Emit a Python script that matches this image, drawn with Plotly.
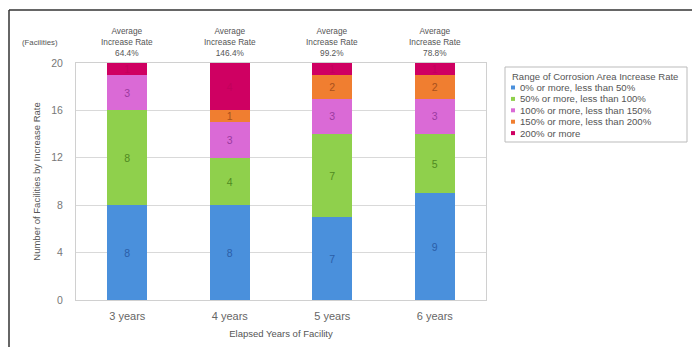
import plotly.graph_objects as go

# ---- data ----
categories = ["3 years", "4 years", "5 years", "6 years"]
series_names = [
    "0% or more, less than 50%",
    "50% or more, less than 100%",
    "100% or more, less than 150%",
    "150% or more, less than 200%",
    "200% or more",
]
vals_0_50 = [8, 8, 7, 9]
vals_50_100 = [8, 4, 7, 5]
vals_100_150 = [3, 3, 3, 3]
vals_150_200 = [0, 1, 2, 2]
vals_200_up = [1, 4, 1, 1]
avg_rates = ["64.4%", "146.4%", "99.2%", "78.8%"]
y_ticks = [0, 4, 8, 12, 16, 20]

series_values = [vals_0_50, vals_50_100, vals_100_150, vals_150_200, vals_200_up]
bar_colors = ["#4A90DC", "#8FD04C", "#DA6AD6", "#F07E30", "#CF0062"]
label_colors = ["#2A5EA8", "#4F8A22", "#9A3AA0", "#A8501C", "#C2005C"]

W, H = 692, 347
L, R, T, B = 76, 486, 63, 300  # plot area pixel bounds
PW, PH = R - L, B - T


def px2x(px):
    return (px - L) / PW


def py2y(py):
    return 1 - (py - T) / PH


FONT = "Liberation Sans, Arial, sans-serif"
TXT = "#555555"

fig = go.Figure()
for name, vals, col, lcol in zip(series_names, series_values, bar_colors, label_colors):
    fig.add_trace(go.Bar(
        x=categories, y=vals, name=name,
        marker=dict(color=col, line=dict(width=0)),
        text=[str(v) if v > 0 else "" for v in vals],
        textposition="inside", insidetextanchor="middle", textangle=0,
        constraintext="none",
        textfont=dict(family=FONT, size=10.5, color=lcol),
        showlegend=False,
    ))

annotations = []
shapes = []

# average-rate annotations above bars
for cat, r in zip(categories, avg_rates):
    annotations.append(dict(
        x=cat, xref="x", y=1, yref="paper", xanchor="center", yanchor="bottom", yshift=3,
        text="Average<br>Increase Rate<br>" + r, showarrow=False,
        font=dict(family=FONT, size=8.3, color=TXT), align="center",
    ))

# (Facilities) label
annotations.append(dict(
    x=px2x(40), y=py2y(43), xref="paper", yref="paper", xanchor="center", yanchor="middle",
    text="(Facilities)", showarrow=False,
    font=dict(family=FONT, size=7.8, color=TXT),
))

# manual legend
lg_left, lg_right, lg_top, lg_bottom = 505, 687, 67, 142
shapes.append(dict(type="rect", xref="paper", yref="paper",
                   x0=px2x(lg_left), x1=px2x(lg_right), y0=py2y(lg_bottom), y1=py2y(lg_top),
                   line=dict(color="#BBBBBB", width=1), fillcolor="rgba(0,0,0,0)"))
annotations.append(dict(
    x=px2x(510), y=py2y(77), xref="paper", yref="paper", xanchor="left", yanchor="middle",
    text="Range of Corrosion Area Increase Rate", showarrow=False,
    font=dict(family=FONT, size=9.5, color=TXT),
))
for i, (name, col) in enumerate(zip(series_names, bar_colors)):
    cy = 87.5 + i * 11.4
    shapes.append(dict(type="rect", xref="paper", yref="paper",
                       x0=px2x(511), x1=px2x(515), y0=py2y(cy + 2), y1=py2y(cy - 2),
                       line=dict(width=0), fillcolor=col))
    annotations.append(dict(
        x=px2x(518), y=py2y(cy), xref="paper", yref="paper", xanchor="left", yanchor="middle",
        text=name, showarrow=False,
        font=dict(family=FONT, size=9.6, color=TXT),
    ))

# outer frame lines (left and top)
shapes.append(dict(type="line", xref="paper", yref="paper",
                   x0=px2x(9), x1=px2x(9), y0=py2y(10), y1=py2y(347),
                   line=dict(color="#333333", width=1.5)))
shapes.append(dict(type="line", xref="paper", yref="paper",
                   x0=px2x(9), x1=px2x(692), y0=py2y(10), y1=py2y(10),
                   line=dict(color="#333333", width=1.5)))

fig.update_layout(
    width=W, height=H,
    margin=dict(l=L, r=W - R, t=T, b=H - B, pad=0, autoexpand=False),
    barmode="stack", bargap=0.61,
    paper_bgcolor="white", plot_bgcolor="white",
    font=dict(family=FONT, color=TXT),
    annotations=annotations, shapes=shapes,
    showlegend=False,
)
fig.update_xaxes(
    automargin=False,
    showgrid=False, showline=True, linecolor="#D0D0D0", linewidth=1, mirror=True,
    tickfont=dict(family=FONT, size=11, color="#666666"), ticks="", ticklabelstandoff=6,
    title=dict(text="Elapsed Years of Facility", font=dict(family=FONT, size=9.5, color=TXT), standoff=9),
)
fig.update_yaxes(
    automargin=False,
    range=[0, 20], tickvals=y_ticks, showgrid=True, gridcolor="#D9D9D9", gridwidth=1,
    showline=True, linecolor="#D0D0D0", linewidth=1, mirror=True, zeroline=False,
    tickfont=dict(family=FONT, size=10.5, color="#777777"), ticks="", ticklabelstandoff=10,
    title=dict(text="Number of Facilities by Increase Rate", font=dict(family=FONT, size=9.5, color=TXT), standoff=8),
)

fig.write_html("out.html")
